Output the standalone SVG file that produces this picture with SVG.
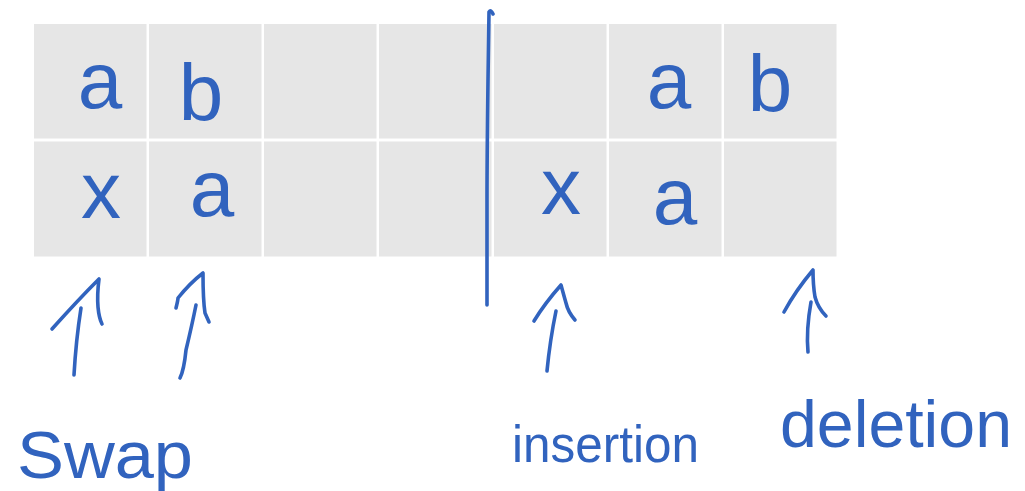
<svg xmlns="http://www.w3.org/2000/svg" width="1025" height="491" viewBox="0 0 1025 491">
<style>
.cell{fill:#E6E6E6}
.ink{fill:none;stroke:#3163BE;stroke-width:3.6;stroke-linecap:round;stroke-linejoin:round}
.ch{font-family:"Liberation Sans",Arial,sans-serif;font-size:80px;fill:#3163BE;text-anchor:middle}
.lbl{font-family:"Liberation Sans",Arial,sans-serif;fill:#3163BE}
</style>
<rect width="1025" height="491" fill="#FFFFFF"/>
<g id="row1">
<g id="c00"><rect class="cell" x="34" y="24" width="112.5" height="114.5"/><text class="ch" x="100" y="108">a</text></g>
<g id="c10"><rect class="cell" x="149" y="24" width="112.5" height="114.5"/><text class="ch" x="201" y="120">b</text></g>
<g id="c20"><rect class="cell" x="264" y="24" width="112.5" height="114.5"/></g>
<g id="c30"><rect class="cell" x="379" y="24" width="112.5" height="114.5"/></g>
<g id="c40"><rect class="cell" x="494" y="24" width="112.5" height="114.5"/></g>
<g id="c50"><rect class="cell" x="609" y="24" width="112.5" height="114.5"/><text class="ch" x="669" y="108">a</text></g>
<g id="c60"><rect class="cell" x="724" y="24" width="112.5" height="114.5"/><text class="ch" x="770" y="111">b</text></g>
</g>
<g id="row2">
<g id="c01"><rect class="cell" x="34" y="141.5" width="112.5" height="115"/><text class="ch" x="101" y="218">x</text></g>
<g id="c11"><rect class="cell" x="149" y="141.5" width="112.5" height="115"/><text class="ch" x="212" y="216">a</text></g>
<g id="c21"><rect class="cell" x="264" y="141.5" width="112.5" height="115"/></g>
<g id="c31"><rect class="cell" x="379" y="141.5" width="112.5" height="115"/></g>
<g id="c41"><rect class="cell" x="494" y="141.5" width="112.5" height="115"/><text class="ch" x="561" y="214">x</text></g>
<g id="c51"><rect class="cell" x="609" y="141.5" width="112.5" height="115"/><text class="ch" x="675" y="224">a</text></g>
<g id="c61"><rect class="cell" x="724" y="141.5" width="112.5" height="115"/></g>
</g>
<g id="divider">
<path class="ink" d="M493 14 Q491 9 489 12 L488 80 Q487 160 487 200 L487 305"/>
</g>
<g id="connectors">
<path class="ink" d="M74 375 Q76 340 81 308"/>
<path class="ink" d="M52 329 Q78 300 99 279 Q97 295 98 307 Q99 318 102 324"/>
<path class="ink" d="M180 378 Q184 370 186 350 Q192 325 196 305"/>
<path class="ink" d="M176 308 Q178 300 178 298 Q190 283 203 273 Q203 300 205 313 L209 322"/>
<path class="ink" d="M547 371 Q550 340 556 311"/>
<path class="ink" d="M534 321 Q545 303 561 285 Q564 296 566 303 Q568 312 575 320"/>
<path class="ink" d="M808 352 Q806 330 811 302"/>
<path class="ink" d="M784 312 Q796 290 813 270 Q813 285 815 297 Q818 308 826 316"/>
</g>
<g id="label-swap"><text class="lbl" x="17" y="478" font-size="66" textLength="176" lengthAdjust="spacingAndGlyphs">Swap</text></g>
<g id="label-insertion"><text class="lbl" x="512" y="462" font-size="52" textLength="187" lengthAdjust="spacingAndGlyphs">insertion</text></g>
<g id="label-deletion"><text class="lbl" x="780" y="447" font-size="66" textLength="232" lengthAdjust="spacingAndGlyphs">deletion</text></g>
</svg>
